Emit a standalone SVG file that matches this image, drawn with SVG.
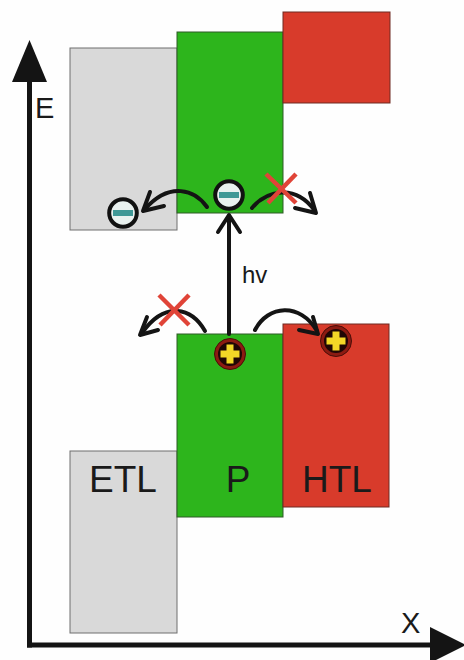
<svg xmlns="http://www.w3.org/2000/svg" width="464" height="660" viewBox="0 0 464 660">
  <style>
    .etl { fill: #d9d9d9; stroke: #6e6e6e; stroke-width: 1; }
    .per { fill: #2db51c; stroke: #2f5a26; stroke-width: 1; }
    .htl { fill: #d83b2b; stroke: #6e2a22; stroke-width: 1; }
    .lbl { font-family: "Liberation Sans", Arial, sans-serif; fill: #1a1a1a; }
    .layer { font-size: 37px; text-anchor: middle; }
    .axis { stroke: #141414; stroke-width: 5; fill: none; }
    .flow { stroke: #141414; stroke-width: 4; fill: none; stroke-linecap: round; stroke-linejoin: round; }
    .block { stroke: #e04438; stroke-width: 4.5; stroke-linecap: butt; }
    .e-ring { fill: #e9f1ef; stroke: #111; stroke-width: 4; }
    .e-bar { fill: #3f9896; }
    .h-ring { fill: #8c1b12; stroke: #4a0e08; stroke-width: 1; }
    .h-core { fill: #1f0705; }
    .h-bar { fill: #f3d827; }
  </style>
  <defs>
    <g id="electron">
      <circle r="13.8" class="e-ring"/>
      <rect x="-10" y="-3" width="20" height="6" class="e-bar"/>
    </g>
    <g id="hole">
      <circle r="15.5" class="h-ring"/>
      <circle r="12" class="h-core"/>
      <rect x="-9.5" y="-3.5" width="19" height="7" class="h-bar"/>
      <rect x="-3.5" y="-9.5" width="7" height="19" class="h-bar"/>
    </g>
  </defs>

  <rect width="464" height="660" fill="#fefefe"/>

  <!-- energy / position axes -->
  <g id="axes">
    <line x1="29.5" y1="78" x2="29.5" y2="647.5" class="axis"/>
    <polygon points="12,82 29.5,40 47,82" fill="#141414"/>
    <line x1="27" y1="645" x2="434" y2="645" class="axis"/>
    <polygon points="430,627 466,645 430,663" fill="#141414"/>
    <text x="35" y="118" class="lbl" font-size="29">E</text>
    <text x="401" y="633" class="lbl" font-size="29">X</text>
  </g>

  <!-- conduction band levels -->
  <g id="etl-cb"><rect x="70" y="48" width="107" height="182" class="etl"/></g>
  <g id="p-cb"><rect x="177" y="32" width="106" height="181" class="per"/></g>
  <g id="htl-cb"><rect x="283" y="12" width="107" height="91" class="htl"/></g>

  <!-- valence band levels -->
  <g id="etl-vb">
    <rect x="70" y="451" width="107" height="182" class="etl"/>
    <text x="123" y="492" class="lbl layer">ETL</text>
  </g>
  <g id="p-vb">
    <rect x="177" y="334" width="106" height="183" class="per"/>
    <text x="238" y="492" class="lbl layer">P</text>
  </g>
  <g id="htl-vb">
    <rect x="283" y="324" width="106" height="183" class="htl"/>
    <text x="337" y="492" class="lbl layer">HTL</text>
  </g>

  <!-- carrier transfer paths -->
  <g id="connectors">
    <line x1="229" y1="334" x2="229" y2="216" class="flow"/>
    <polyline points="218,232 229,215 240,232" class="flow"/>
    <text x="242" y="283" class="lbl" font-size="24">hv</text>

    <path d="M207,207 C195,190 170,181 145,209" class="flow"/>
    <polyline points="150,192 143,211 164,206" class="flow"/>

    <path d="M252,208 C266,191 295,183 315,211" class="flow"/>
    <polyline points="310,193 316,213 295,208" class="flow"/>

    <path d="M205,331 C192,308 165,300 142,333" class="flow"/>
    <polyline points="147,317 140,335 158,330" class="flow"/>

    <path d="M255,330 C268,305 300,302 317,331" class="flow"/>
    <polyline points="313,317 318,334 299,330" class="flow"/>

    <!-- blocked transfers -->
    <line x1="266" y1="174" x2="296" y2="203" class="block"/>
    <line x1="296" y1="174" x2="268" y2="203" class="block"/>
    <line x1="159" y1="295" x2="189" y2="325" class="block"/>
    <line x1="189" y1="295" x2="160" y2="325" class="block"/>
  </g>

  <!-- charge carriers -->
  <g id="electron-p"><use href="#electron" x="229" y="195"/></g>
  <g id="electron-etl"><use href="#electron" x="123" y="213"/></g>
  <g id="hole-p"><use href="#hole" x="230" y="354"/></g>
  <g id="hole-htl"><use href="#hole" x="336" y="341"/></g>
</svg>
